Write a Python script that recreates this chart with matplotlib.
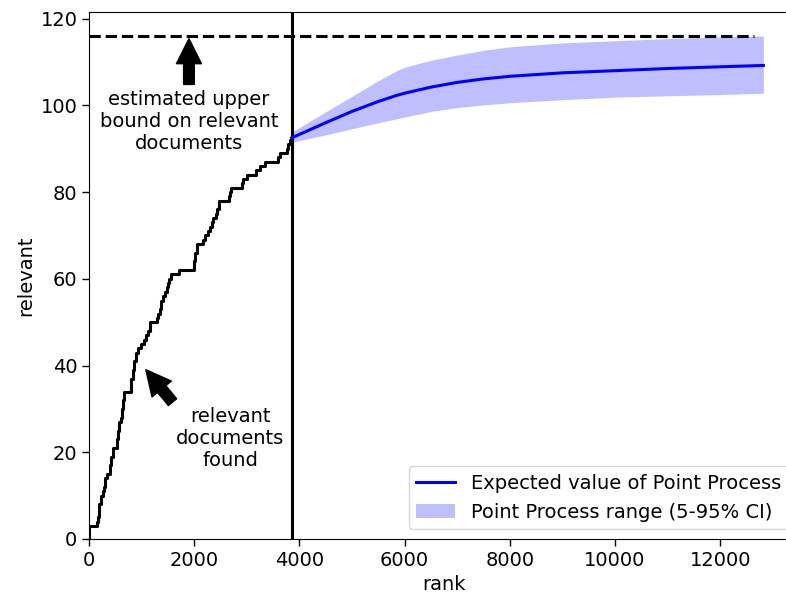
import matplotlib
matplotlib.use('Agg')
import matplotlib.pyplot as plt
import numpy as np

# relevant documents found while reviewing the ranking (step curve)
rank_found = [0, 0, 150, 170, 185, 196, 230, 260, 290, 310, 350, 390, 420, 450, 540, 560,
              577, 600, 627, 645, 671, 790, 805, 830, 862, 890, 925, 989, 1052, 1090,
              1120, 1160, 1290, 1318, 1345, 1370, 1410, 1445, 1475, 1508, 1530, 1553,
              1717, 1990, 2020, 2059, 2170, 2205, 2268, 2300, 2332, 2360, 2410, 2430,
              2471, 2660, 2680, 2700, 2910, 2934, 3000, 3180, 3260, 3346, 3600, 3631,
              3760, 3789, 3830, 3850]
relevant_found = [0, 3, 4, 5, 6, 8, 10, 11, 12, 14, 15, 17, 19, 21, 23, 25,
                  27, 28, 30, 32, 34, 35, 37, 39, 41, 43, 44, 45, 46, 47,
                  48, 50, 51, 52, 53, 55, 56, 57, 58, 59, 60, 61,
                  62, 64, 66, 68, 69, 70, 71, 72, 73, 74, 75, 76,
                  78, 79, 80, 81, 82, 83, 84, 85, 86, 87, 88, 89,
                  90, 91, 92, 92]

cutoff_rank = 3850
upper_bound = 116
bound_end = 12650

# point process forecast after the cutoff
pp_rank = [3850, 4000, 4500, 5000, 5500, 5850, 6000, 6500, 7000, 7500, 8000, 9000, 10000, 11000, 12000, 12820]
pp_mean = [92.5, 93.3, 96.0, 98.6, 100.9, 102.3, 102.8, 104.2, 105.3, 106.1, 106.7, 107.5, 108.0, 108.5, 108.9, 109.2]
pp_low = [91.4, 91.9, 93.2, 94.6, 96.0, 96.9, 97.3, 98.6, 99.5, 100.1, 100.6, 101.3, 101.9, 102.2, 102.5, 102.8]
pp_high = [93.8, 94.9, 98.5, 102.1, 105.7, 108.0, 108.8, 110.4, 111.6, 112.7, 113.5, 114.4, 114.9, 115.4, 115.8, 116.0]

plt.rcParams['font.size'] = 14

fig = plt.figure(figsize=(7.86, 5.97), dpi=100)
ax = fig.add_axes([89/786, 58/597, (798.6-89)/786, (539-11.7)/597])

ax.plot(rank_found, relevant_found, color='black', lw=2.2, drawstyle='steps-post')
ax.axvline(cutoff_rank, color='black', lw=2.2)
ax.hlines(upper_bound, 0, bound_end, colors='black', linestyles='dashed', lw=2.2)

ax.plot(pp_rank, pp_mean, color='blue', lw=2.2, label='Expected value of Point Process')
ax.fill_between(pp_rank, pp_low, pp_high, color='blue', alpha=0.25, lw=0,
                label='Point Process range (5-95% CI)')

arrow = dict(facecolor='black', edgecolor='black', shrink=0.05, width=7.7, headwidth=18, headlength=18)
ax.annotate('estimated upper\nbound on relevant\ndocuments', xy=(1900, 116), xytext=(1900, 96.3),
            ha='center', va='center', arrowprops=arrow)
ax.annotate('relevant\ndocuments\nfound', xy=(1050, 39.5), xytext=(2690, 23.2),
            ha='center', va='center', arrowprops=arrow)

ax.set_xlim(0, 13490)
ax.set_ylim(0, 121.6)
ax.set_xlabel('rank')
ax.set_ylabel('relevant')
ax.tick_params(length=4.8, width=1)
ax.legend(loc='lower right')

fig.savefig('out.png', dpi=100)
